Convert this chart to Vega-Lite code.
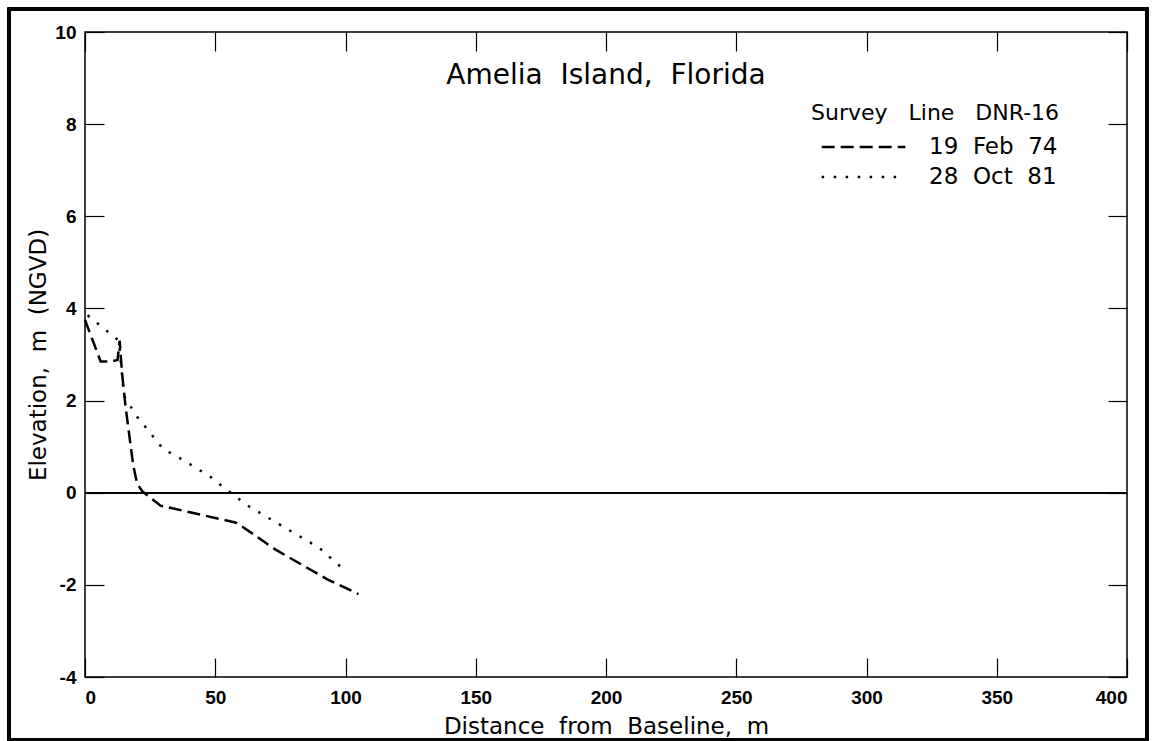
{
  "$schema": "https://vega.github.io/schema/vega-lite/v6.json",
  "width": 1042,
  "height": 645,
  "autosize": {"type": "none"},
  "padding": {"left": 85, "top": 32, "right": 28, "bottom": 64},
  "background": "white",
  "config": {
    "view": {"stroke": "black", "strokeWidth": 1.5},
    "axis": {
      "domain": false,
      "grid": false,
      "tickColor": "black",
      "tickWidth": 1.2,
      "tickSize": -19,
      "labelColor": "black",
      "labelFont": "Liberation Sans",
      "labelFontWeight": "bold",
      "labelFontSize": 19,
      "titleColor": "black",
      "titleFont": "DejaVu Sans",
      "titleFontWeight": "normal",
      "titleFontSize": 23
    }
  },
  "title": {
    "text": "Amelia\u00a0 Island,\u00a0 Florida",
    "offset": -104,
    "baseline": "alphabetic",
    "frame": "group",
    "anchor": "middle",
    "font": "DejaVu Sans",
    "fontSize": 28,
    "fontWeight": "normal",
    "color": "black"
  },
  "data": {
    "values": [
      {"survey": "19 Feb 74", "dist": 0, "elev": 3.75},
      {"survey": "19 Feb 74", "dist": 6, "elev": 2.85},
      {"survey": "19 Feb 74", "dist": 10, "elev": 2.85},
      {"survey": "19 Feb 74", "dist": 12.5, "elev": 2.88},
      {"survey": "19 Feb 74", "dist": 13.3, "elev": 3.3},
      {"survey": "19 Feb 74", "dist": 14.2, "elev": 2.6},
      {"survey": "19 Feb 74", "dist": 15.5, "elev": 1.9},
      {"survey": "19 Feb 74", "dist": 18.5, "elev": 0.6},
      {"survey": "19 Feb 74", "dist": 20, "elev": 0.2},
      {"survey": "19 Feb 74", "dist": 22, "elev": 0.03},
      {"survey": "19 Feb 74", "dist": 29, "elev": -0.28},
      {"survey": "19 Feb 74", "dist": 58, "elev": -0.65},
      {"survey": "19 Feb 74", "dist": 60, "elev": -0.72},
      {"survey": "19 Feb 74", "dist": 73, "elev": -1.23},
      {"survey": "19 Feb 74", "dist": 93, "elev": -1.88},
      {"survey": "19 Feb 74", "dist": 105, "elev": -2.2},
      {"survey": "28 Oct 81", "dist": 1, "elev": 3.85},
      {"survey": "28 Oct 81", "dist": 13, "elev": 3.3},
      {"survey": "28 Oct 81", "dist": 15, "elev": 2.1},
      {"survey": "28 Oct 81", "dist": 20, "elev": 1.65},
      {"survey": "28 Oct 81", "dist": 30, "elev": 0.95},
      {"survey": "28 Oct 81", "dist": 38, "elev": 0.7},
      {"survey": "28 Oct 81", "dist": 48, "elev": 0.35},
      {"survey": "28 Oct 81", "dist": 57, "elev": -0.05},
      {"survey": "28 Oct 81", "dist": 63, "elev": -0.3},
      {"survey": "28 Oct 81", "dist": 90, "elev": -1.2},
      {"survey": "28 Oct 81", "dist": 100, "elev": -1.7}
    ]
  },
  "layer": [
    {
      "mark": {"type": "rect", "fill": null, "stroke": "black", "strokeWidth": 2.5, "clip": false},
      "encoding": {
        "x": {
          "datum": -29.17, "type": "quantitative",
          "scale": {"domain": [0, 400], "nice": false, "zero": false},
          "axis": {"orient": "top", "labels": false, "title": null, "values": [0, 50, 100, 150, 200, 250, 300, 350, 400]}
        },
        "x2": {"datum": 407.68},
        "y": {
          "datum": 10.5, "type": "quantitative",
          "scale": {"domain": [-4, 10], "nice": false, "zero": false},
          "axis": {"orient": "right", "labels": false, "title": null, "values": [-4, -2, 0, 2, 4, 6, 8, 10]}
        },
        "y2": {"datum": -5.35}
      }
    },
    {
      "mark": {"type": "rule", "color": "black", "strokeWidth": 1.2},
      "encoding": {
        "y": {"datum": 0, "type": "quantitative", "axis": null}
      }
    },
    {
      "mark": {"type": "line", "color": "black", "strokeWidth": 2.5},
      "encoding": {
        "x": {
          "field": "dist", "type": "quantitative",
          "axis": {
            "orient": "bottom",
            "title": "Distance\u00a0 from\u00a0 Baseline,\u00a0 m",
            "values": [0, 50, 100, 150, 200, 250, 300, 350, 400],
            "labelPadding": 30,
            "titlePadding": 8
          }
        },
        "y": {
          "field": "elev", "type": "quantitative",
          "axis": {
            "orient": "left",
            "title": "Elevation,\u00a0 m\u00a0 (NGVD)",
            "values": [-4, -2, 0, 2, 4, 6, 8, 10],
            "labelExpr": "replace(datum.label, '\u2212', '-')",
            "labelPadding": 28,
            "titlePadding": 4
          }
        },
        "strokeDash": {
          "field": "survey", "type": "nominal",
          "scale": {"domain": ["19 Feb 74", "28 Oct 81"], "range": [[13, 6], [2.5, 9.5]]},
          "legend": {
            "orient": "none",
            "legendX": 726,
            "legendY": 71,
            "title": "Survey\u00a0\u00a0 Line\u00a0\u00a0 DNR-16",
            "titleFont": "DejaVu Sans",
            "titleFontSize": 22,
            "titleFontWeight": "normal",
            "titleColor": "black",
            "titleLimit": 500,
            "titlePadding": 9,
            "labelFont": "DejaVu Sans",
            "labelFontSize": 23,
            "labelColor": "black",
            "labelLimit": 500,
            "labelOffset": 22,
            "labelExpr": "join(split(datum.label, ' '), '\u00a0 ')",
            "symbolType": "stroke",
            "symbolSize": 7000,
            "symbolStrokeWidth": 2.5,
            "symbolStrokeColor": "black",
            "symbolOffset": 9,
            "clipHeight": 26,
            "rowPadding": 4
          }
        }
      }
    }
  ],
  "resolve": {"axis": {"x": "independent", "y": "independent"}}
}
